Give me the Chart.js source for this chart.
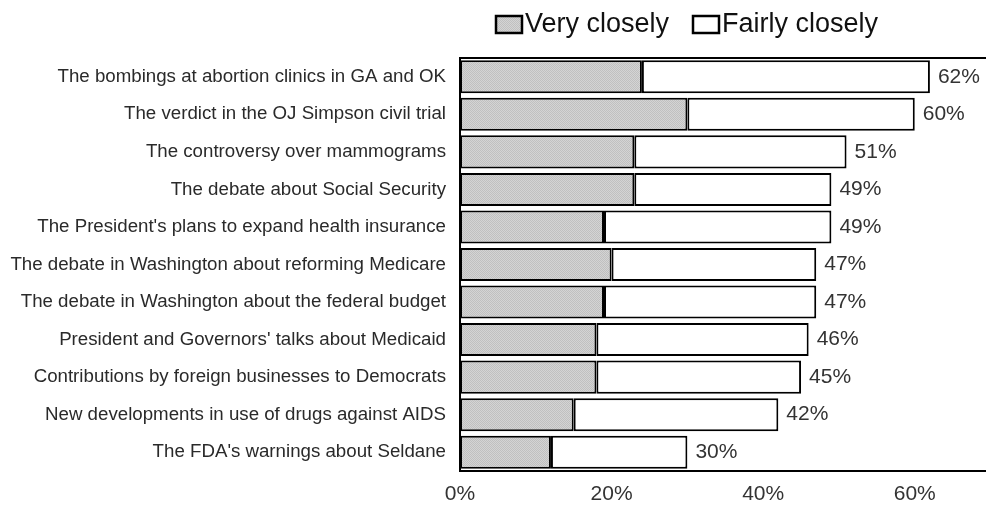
<!DOCTYPE html>
<html lang="en">
<head>
    <meta charset="UTF-8">
    <title>News interest</title>
    <script src="https://cdn.jsdelivr.net/npm/chart.js"></script>
    <style>
        html, body { margin: 0; padding: 0; background: #fff; }
        #wrap { width: 986px; height: 508px; position: relative; }
    </style>
</head>
<body>
    <div id="wrap"><canvas id="news-chart"></canvas></div>

    <script>
        // data
        const categories = [
            "The bombings at abortion clinics in GA and OK",
            "The verdict in the OJ Simpson civil trial",
            "The controversy over mammograms",
            "The debate about Social Security",
            "The President's plans to expand health insurance",
            "The debate in Washington about reforming Medicare",
            "The debate in Washington about the federal budget",
            "President and Governors' talks about Medicaid",
            "Contributions by foreign businesses to Democrats",
            "New developments in use of drugs against AIDS",
            "The FDA's warnings about Seldane"
        ];
        const veryClosely = [24, 30, 23, 23, 19, 20, 19, 18, 18, 15, 12];
        const fairlyClosely = [38, 30, 28, 26, 30, 27, 28, 28, 27, 27, 18];
        const totals = [62, 60, 51, 49, 49, 47, 47, 46, 45, 42, 30];
        const seriesNames = ["Very closely", "Fairly closely"];
        const xTicks = [0, 20, 40, 60];

        const FONT = "Arial, 'Liberation Sans', sans-serif";

        // stippled gray like the original
        function stipple() {
            const c = document.createElement('canvas');
            c.width = 2; c.height = 2;
            const g = c.getContext('2d');
            g.fillStyle = '#d4d4d4'; g.fillRect(0, 0, 2, 2);
            g.fillStyle = '#c0c0c0'; g.fillRect(0, 0, 1, 1); g.fillRect(1, 1, 1, 1);
            return g.createPattern(c, 'repeat');
        }
        const grayFill = stipple();

        const extras = {
            id: 'extras',
            afterDraw(chart) {
                const ctx = chart.ctx;
                const area = chart.chartArea;
                const x = chart.scales.x, y = chart.scales.y;
                ctx.save();
                // top frame line
                ctx.strokeStyle = '#000';
                ctx.lineWidth = 2;
                ctx.beginPath();
                ctx.moveTo(area.left - 1, area.top);
                ctx.lineTo(area.right, area.top);
                ctx.stroke();

                // totals at bar ends
                ctx.fillStyle = '#333';
                ctx.font = '21px ' + FONT;
                ctx.textBaseline = 'middle';
                ctx.textAlign = 'left';
                totals.forEach((t, i) => {
                    ctx.fillText(t + '%', x.getPixelForValue(t) + 8, y.getPixelForValue(i));
                });

                // legend
                ctx.font = '27px ' + FONT;
                ctx.textBaseline = 'middle';
                const items = [
                    { label: seriesNames[0], fill: grayFill, x: 496 },
                    { label: seriesNames[1], fill: '#fff', x: 693 }
                ];
                items.forEach(it => {
                    ctx.fillStyle = it.fill;
                    ctx.fillRect(it.x, 16, 26, 17);
                    ctx.strokeStyle = '#000';
                    ctx.lineWidth = 2.5;
                    ctx.strokeRect(it.x, 16, 26, 17);
                    ctx.fillStyle = '#111';
                    ctx.fillText(it.label, it.x + 29, 25);
                });
                ctx.restore();
            }
        };

        new Chart(document.getElementById('news-chart'), {
            type: 'bar',
            data: {
                labels: categories,
                datasets: [{
                    label: seriesNames[0],
                    data: veryClosely,
                    backgroundColor: grayFill,
                    borderColor: '#000',
                    borderWidth: 2,
                    borderSkipped: false
                }, {
                    label: seriesNames[1],
                    data: fairlyClosely,
                    backgroundColor: '#fff',
                    borderColor: '#000',
                    borderWidth: 2,
                    borderSkipped: false
                }]
            },
            options: {
                indexAxis: 'y',
                responsive: true,
                maintainAspectRatio: false,
                animation: false,
                barPercentage: 0.88,
                categoryPercentage: 1,
                layout: { padding: { top: 58, right: 0, left: 0, bottom: 0 } },
                plugins: {
                    legend: { display: false },
                    tooltip: { enabled: false }
                },
                scales: {
                    x: {
                        stacked: true,
                        min: 0,
                        max: 69.4,
                        afterBuildTicks: axis => {
                            axis.ticks = xTicks.map(v => ({ value: v }));
                        },
                        afterFit: axis => { axis.height = 37; },
                        grid: { display: false, drawTicks: false },
                        border: { color: '#000', width: 2 },
                        ticks: {
                            color: '#333',
                            font: { size: 21, family: FONT },
                            padding: 11,
                            callback: v => v + '%'
                        }
                    },
                    y: {
                        stacked: true,
                        afterFit: axis => { axis.width = 460; },
                        grid: { display: false, drawTicks: false },
                        border: { color: '#000', width: 2 },
                        ticks: {
                            color: '#2a2a2a',
                            font: { size: 18.7, family: FONT },
                            padding: 14,
                            autoSkip: false
                        }
                    }
                }
            },
            plugins: [extras]
        });
    </script>
</body>
</html>
